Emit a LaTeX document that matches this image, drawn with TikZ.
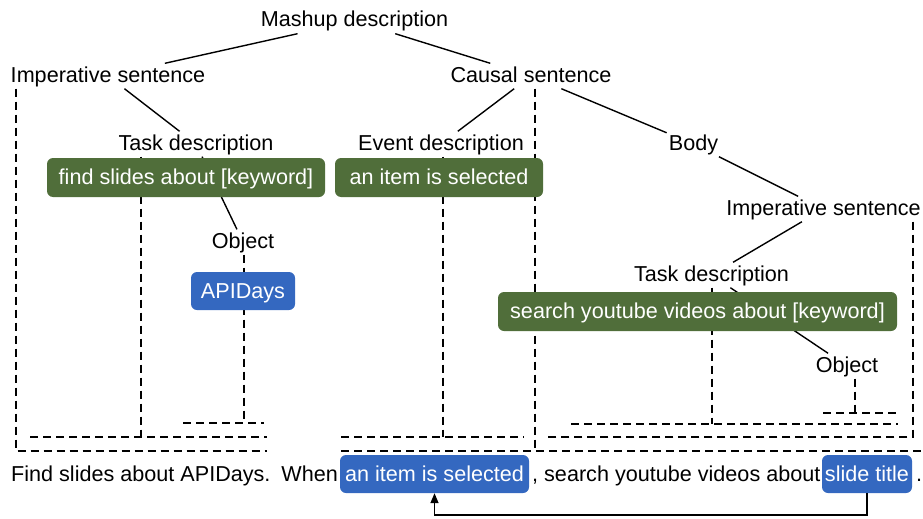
\documentclass[tikz,border=0pt]{standalone}
\usepackage{fontspec}
\setmainfont{Liberation Sans}
\usetikzlibrary{arrows.meta}
\definecolor{boxgreen}{RGB}{80,110,58}
\definecolor{boxblue}{RGB}{52,104,192}
\begin{document}
\begin{tikzpicture}[x=1pt,y=-1pt,
  font=\fontsize{21.6}{26}\selectfont,
  lbl/.style={inner xsep=2pt, inner ysep=1.5pt, text height=17pt, text depth=5pt, anchor=base},
  plain/.style={inner sep=0pt, text height=17pt, text depth=5pt},
  gbox/.style={fill=boxgreen, text=white, rounded corners=6pt, inner xsep=0pt, inner ysep=0pt,
     minimum height=39pt, text height=17pt, text depth=3pt},
  bbox/.style={fill=boxblue, text=white, rounded corners=6pt, inner xsep=0pt, inner ysep=0pt,
     minimum height=38pt, text height=17pt, text depth=3pt},
  tl/.style={line width=1.4pt},
  dsh/.style={line width=1.4pt, dash pattern=on 8pt off 5pt},
  arr/.style={line width=1.4pt, -{Triangle[length=10pt,width=8pt]}}]
\useasboundingbox (0,0) rectangle (923,519);

% tree labels
\node[lbl] (mash) at (354.5,27) {Mashup description};
\node[lbl] (impL) at (108,82) {Imperative sentence};
\node[lbl] (caus) at (531,82) {Causal sentence};
\node[lbl] (taskL) at (196,150) {Task description};
\node[lbl] (event) at (441,150) {Event description};
\node[lbl] (body) at (693.5,150) {Body};
\node[lbl] (impR) at (823.5,215) {Imperative sentence};
\node[lbl] (objL) at (243,248) {Object};
\node[lbl] (taskR) at (711.5,281) {Task description};
\node[lbl] (objR) at (847,372) {Object};

% solid tree connectors
\draw[tl] (mash) -- (impL);
\draw[tl] (mash) -- (caus);
\draw[tl] (impL) -- (taskL);
\draw[tl] (taskL) -- (objL);
\draw[tl] (caus) -- (event);
\draw[tl] (caus) -- (body);
\draw[tl] (body) -- (impR);
\draw[tl] (impR) -- (taskR);
\draw[tl] (taskR) -- (objR);

% dashed span brackets
\coordinate (k1) at (16,451);   \coordinate (e1) at (267,451);
\coordinate (k2) at (141,437);  \coordinate (a2) at (30,437);  \coordinate (e2) at (267,437);
\coordinate (k3) at (244,423);  \coordinate (a3) at (183,423); \coordinate (e3) at (264,423);
\coordinate (k4) at (443,437);  \coordinate (a4) at (341,437); \coordinate (e4) at (524,437);
\coordinate (k5) at (535,451);  \coordinate (a5) at (341,451); \coordinate (e5) at (923,451);
\coordinate (k6) at (913,437);  \coordinate (a6) at (546,437);
\coordinate (k7) at (712,424);  \coordinate (a7) at (571,424); \coordinate (e7) at (898,424);
\coordinate (k8) at (855,413);  \coordinate (a8) at (823,413); \coordinate (e8) at (898,413);

\draw[dsh] (k1 |- impL.south) -- (k1) -- (e1);
\draw[dsh] (k2 |- taskL.south) -- (k2);
\draw[dsh] (a2) -- (e2);
\draw[dsh] (k3 |- objL.south) -- (k3);
\draw[dsh] (a3) -- (e3);
\draw[dsh] (k4 |- event.south) -- (k4);
\draw[dsh] (a4) -- (e4);
\draw[dsh] (k5 |- caus.south) -- (k5);
\draw[dsh] (a5) -- (e5);
\draw[dsh] (k6 |- impR.south) -- (k6) -- (a6);
\draw[dsh] (k7 |- taskR.south) -- (k7);
\draw[dsh] (a7) -- (e7);
\draw[dsh] (k8 |- objR.south) -- (k8);
\draw[dsh] (a8) -- (e8);

% boxes on top
\node[gbox, minimum width=278pt] (gL) at (186,177.5) {find slides about [keyword]};
\node[gbox, minimum width=208pt] (gE) at (439,177.5) {an item is selected};
\node[gbox, minimum width=399pt] (gR) at (697.5,311.5) {search youtube videos about [keyword]};
\node[bbox, minimum width=104pt] (api) at (243,291) {APIDays};

% bottom sentence
\node[plain, anchor=base west] (s1) at (11,481) {Find slides about APIDays.};
\node[plain, anchor=base east] (s2) at (338,481) {When};
\node[bbox, minimum width=189pt] (ev2) at (434.5,474) {an item is selected};
\node[plain, anchor=base west] (s3) at (532,481) {, search youtube videos about};
\node[bbox, minimum width=90pt] (st) at (867,474) {slide title};
\node[plain, anchor=base west] (s4) at (916,481) {.};

\coordinate (ar) at (0,515);
\draw[arr] (st.south) -- (st.south |- ar) -| (ev2.south);
\end{tikzpicture}
\end{document}
